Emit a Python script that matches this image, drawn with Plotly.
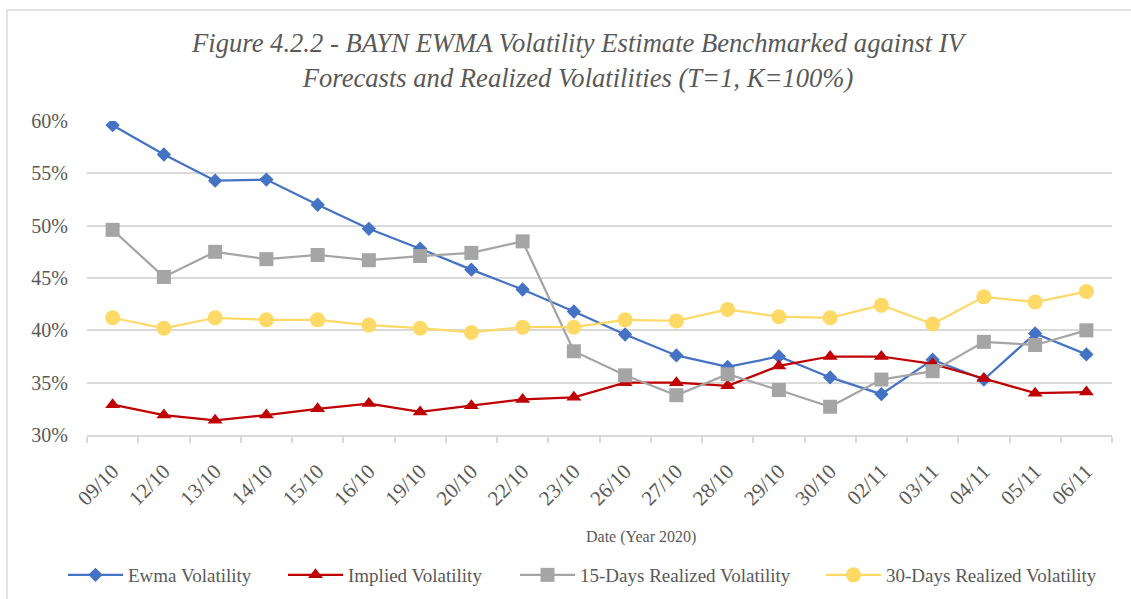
import plotly.graph_objects as go

dates = ["09/10", "12/10", "13/10", "14/10", "15/10", "16/10", "19/10", "20/10", "22/10", "23/10",
         "26/10", "27/10", "28/10", "29/10", "30/10", "02/11", "03/11", "04/11", "05/11", "06/11"]
ewma = [59.6, 56.8, 54.3, 54.4, 52.0, 49.7, 47.8, 45.8, 43.9, 41.8,
        39.6, 37.6, 36.5, 37.5, 35.5, 33.9, 37.2, 35.3, 39.7, 37.7]
implied = [32.9, 31.9, 31.4, 31.9, 32.5, 33.0, 32.2, 32.8, 33.4, 33.6,
           35.0, 35.0, 34.7, 36.6, 37.5, 37.5, 36.8, 35.4, 34.0, 34.1]
rv15 = [49.6, 45.1, 47.5, 46.8, 47.2, 46.7, 47.1, 47.4, 48.5, 38.0,
        35.7, 33.8, 35.8, 34.3, 32.7, 35.3, 36.1, 38.9, 38.6, 40.0]
rv30 = [41.2, 40.2, 41.2, 41.0, 41.0, 40.5, 40.2, 39.8, 40.3, 40.3,
        41.0, 40.9, 42.0, 41.3, 41.2, 42.4, 40.6, 43.2, 42.7, 43.7]

series = [
    ("Ewma Volatility", ewma, "#4472C4", "diamond", 11),
    ("Implied Volatility", implied, "#C00000", "triangle-up", 13),
    ("15-Days Realized Volatility", rv15, "#A5A5A5", "square", 14),
    ("30-Days Realized Volatility", rv30, "#FFD966", "circle", 15),
]

W, H = 1131, 599
L, R, T, B = 87, 19, 121, 164
pw, ph = W - L - R, H - T - B

def px(xp):
    return (xp - L) / pw

def py(yp):
    return (H - B - yp) / ph

serif = "Liberation Serif, Times New Roman, serif"
grey = "#595959"

legend_ids = ["legend", "legend2", "legend3", "legend4"]
legend_x = [70, 290, 522, 828]

fig = go.Figure()
for (name, vals, color, sym, size), lid in zip(series, legend_ids):
    fig.add_trace(go.Scatter(
        x=dates, y=[v / 100 for v in vals], name=name, mode="lines+markers",
        line=dict(color=color, width=2.25),
        marker=dict(symbol=sym, size=size, color=color),
        legend=lid,
    ))

legend_layout = {}
for lid, lx in zip(legend_ids, legend_x):
    legend_layout[lid] = dict(
        orientation="h", xref="container", x=(lx - 7) / W, xanchor="left",
        yref="container", y=1 - 575 / H, yanchor="middle",
        font=dict(size=19, family=serif, color=grey), itemwidth=55,
        bgcolor="rgba(0,0,0,0)", borderwidth=0,
    )

fig.update_layout(
    width=W, height=H,
    margin=dict(l=L, r=R, t=T, b=B),
    paper_bgcolor="white", plot_bgcolor="white",
    font=dict(family=serif, color=grey),
    showlegend=True,
    title=dict(text="<i>Figure 4.2.2 - BAYN EWMA Volatility Estimate Benchmarked against IV<br>"
                    "Forecasts and Realized Volatilities (T=1, K=100%)</i>",
               x=578 / W, xanchor="center", y=1 - 52 / H, yanchor="middle",
               font=dict(size=26.6, family=serif, color=grey)),
    xaxis=dict(type="category", tickangle=-45, tickfont=dict(size=21, family=serif, color=grey),
               showgrid=False, showline=True, linecolor="#D9D9D9", linewidth=1.5,
               ticks="outside", tickson="boundaries", ticklen=6, tickcolor="#D9D9D9", tickwidth=1.5,
               ticklabelstandoff=14,
               range=[-0.5, len(dates) - 0.5], automargin=False),
    yaxis=dict(range=[0.30, 0.60], dtick=0.05, tickformat=".0%",
               tickfont=dict(size=20, family=serif, color=grey),
               showgrid=True, gridcolor="#D9D9D9", gridwidth=1.5, zeroline=False,
               ticklabelstandoff=18, showline=False, automargin=False),
    annotations=[dict(text="Date (Year 2020)", xref="paper", yref="paper", x=px(641), y=py(537),
                      xanchor="center", yanchor="middle", showarrow=False,
                      font=dict(size=16, family=serif, color=grey))],
    shapes=[dict(type="rect", xref="paper", yref="paper", x0=px(7), x1=px(1140), y0=py(620), y1=py(10),
                 line=dict(color="#D9D9D9", width=1.5), fillcolor="rgba(0,0,0,0)", layer="below")],
    **legend_layout,
)

fig.write_html("out.html", config={"displayModeBar": False},
               post_script="document.body.style.margin='0';document.body.style.overflow='hidden';")
